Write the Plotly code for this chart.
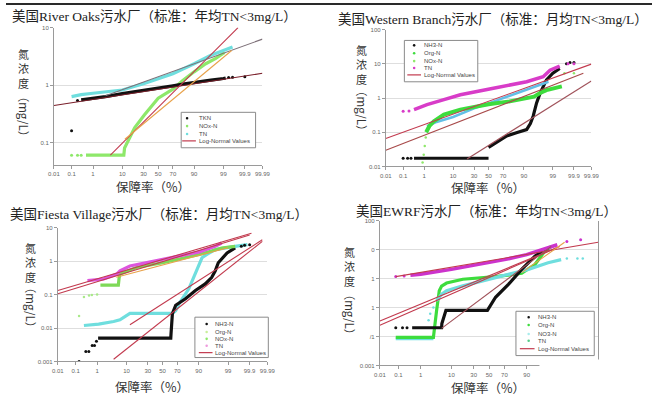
import plotly.graph_objects as go
from statistics import NormalDist

# ---------------- data (percentile %, concentration mg/L) ----------------
X_TICK_P = [0.01, 0.1, 1, 10, 30, 50, 70, 90, 99, 99.9, 99.99]
X_TICK_TEXT = ["0.01", "0.1", "1", "10", "30", "50", "70", "90", "99", "99.9", "99.99"]

TITLES = ["美国River Oaks污水厂（标准：年均TN<3mg/L）",
          "美国Western Branch污水厂（标准：月均TN<3mg/L）",
          "美国Fiesta Village污水厂（标准：月均TN<3mg/L）",
          "美国EWRF污水厂（标准：年均TN<3mg/L）"]
X_TITLE = "保障率（%）"
Y_TITLE_CHARS = ["氮", "浓", "度"]
Y_TITLE_UNIT = "（mg/L）"

P1_Y_TICKS = [0.1, 1, 10]
P1_Y_TEXT = ["0.1", "1", "10"]
P2_Y_TICKS = [0.01, 0.1, 1, 10, 100]
P2_Y_TEXT = ["0.01", "0.1", "1", "10", "100"]
P3_Y_TICKS = [0.001, 0.01, 0.1, 1, 10]
P3_Y_TEXT = ["0.001", "0.01", "0.1", "1", "10"]
P4_Y_TICKS = [0.001, 0.01, 0.1, 1, 10, 100]
P4_Y_TEXT = ["0.001", "/1", "1", "1", "0", "100"]

# Panel 1 - River Oaks
P1_NAMES = ["TKN", "NOx-N", "TN", "Log-Normal Values"]
P1_TKN_P = [0.3, 0.6, 1, 3, 10, 30, 50, 70, 81, 90, 97, 99, 99.2]
P1_TKN_V = [0.55, 0.57, 0.59, 0.63, 0.71, 0.8, 0.88, 0.97, 1.04, 1.12, 1.22, 1.3, 1.33]
P1_TKN_DOT_P = [0.1, 0.2, 99.4, 99.6, 99.9]
P1_TKN_DOT_V = [0.16, 0.54, 1.35, 1.37, 1.4]
P1_NOX_P = [0.5, 11, 11.5, 13, 20, 31, 50, 70, 81, 90, 95.5, 98, 99.1]
P1_NOX_V = [0.06, 0.06, 0.08, 0.094, 0.18, 0.3, 0.59, 0.85, 1.2, 1.7, 2.35, 2.9, 3.7]
P1_NOX_DOT_P = [0.1, 0.2, 0.3]
P1_NOX_DOT_V = [0.06, 0.06, 0.06]
P1_TN_P = [0.1, 0.3, 1, 3, 10, 30, 50, 70, 90, 97, 99, 99.6]
P1_TN_V = [0.63, 0.68, 0.72, 0.76, 0.82, 1.05, 1.27, 1.58, 2.35, 3.3, 4.0, 4.6]
P1_LN_P = [[0.01, 99.99], [4.4, 99.78], [3, 99.99], [11.7, 99.56]]
P1_LN_V = [[0.44, 1.6], [0.06, 10], [0.65, 6.3], [0.114, 4.0]]

# Panel 2 - Western Branch
P2_NAMES = ["NH3-N", "Org-N", "NOx-N", "TN", "Log-Normal Values"]
P2_NH3_FLAT_P = [0.35, 50]
P2_NH3_FLAT_V = [0.0174, 0.0174]
P2_NH3_P = [50, 60, 74.5, 85, 91.6, 93.5, 94.7, 95.9, 96.9, 98.2, 99, 99.5]
P2_NH3_V = [0.036, 0.048, 0.078, 0.098, 0.12, 0.18, 0.3, 0.72, 1.39, 3.4, 5.3, 7.3]
P2_NH3_DOT_P = [0.1, 0.17, 0.25, 99.76, 99.84, 99.9]
P2_NH3_DOT_V = [0.0174, 0.0174, 0.0174, 10, 11, 11]
P2_ORG_P = [1.2, 1.6, 2.4, 5.3, 15.4, 50, 78, 93.3, 95, 96.9, 98.2, 99.6]
P2_ORG_V = [0.1, 0.15, 0.21, 0.33, 0.46, 0.66, 0.8, 1.0, 1.1, 1.4, 1.7, 2.2]
P2_NOX_P = [1.3, 3, 10, 30, 50, 70, 90, 97, 98.5]
P2_NOX_V = [0.15, 0.2, 0.28, 0.5, 0.7, 1.0, 1.7, 2.6, 3.0]
P2_NOX_DOT_P = [0.85, 0.95, 1.05, 1.15, 99.7, 99.9]
P2_NOX_DOT_V = [0.013, 0.022, 0.04, 0.07, 5.3, 5.3]
P2_TN_P = [0.35, 1.3, 5, 15.4, 57, 91.6, 97.6, 98.7, 99.5]
P2_TN_V = [0.46, 0.64, 0.88, 1.25, 1.94, 3.0, 4.2, 6.5, 8.6]
P2_TN_DOT_P = [0.1, 0.2, 99.8, 99.9]
P2_TN_DOT_V = [0.41, 0.42, 10, 10]
P2_LN_P = [[0.01, 99.99], [0.01, 99.97], [21.8, 99.99]]
P2_LN_V = [[0.066, 9.8], [0.030, 5.3], [0.0166, 3.16]]

# Panel 3 - Fiesta Village
P3_NAMES = ["NH3-N", "Org-N", "NOx-N", "TN", "Log-Normal Values"]
P3_NH3_P = [1.1, 61.4, 61.8, 62.7, 63.6, 67.9, 79.2, 87.8, 93.5, 95.9, 96.9, 97.6, 98.6, 98.9, 99.5]
P3_NH3_V = [0.005, 0.005, 0.007, 0.0125, 0.027, 0.048, 0.075, 0.132, 0.207, 0.32, 0.5, 0.89, 1.4, 1.75, 2.46]
P3_NH3_DOT_P = [0.15, 0.32, 0.44, 0.62, 0.78, 0.94, 99.74, 99.82, 99.9]
P3_NH3_DOT_V = [0.001, 0.002, 0.002, 0.003, 0.003, 0.004, 2.75, 2.95, 3.08]
P3_ORG_P = [1.36, 5.8, 6.1, 6.5, 17.6, 50, 90.5, 98.2, 99.5]
P3_ORG_V = [0.19, 0.19, 0.3, 0.41, 0.64, 0.89, 1.57, 2.46, 2.75]
P3_ORG_DOT_P = [0.15, 0.26, 0.45, 0.6, 1.0]
P3_ORG_DOT_V = [0.023, 0.084, 0.094, 0.096, 0.1]
P3_NOX_P = [0.26, 1.16, 4.1, 6.5, 12.3, 63.6, 67.9, 72, 82.4, 87.8, 91.9, 94.2, 96.9, 99.5, 99.87]
P3_NOX_V = [0.0119, 0.013, 0.0157, 0.0176, 0.0273, 0.0273, 0.033, 0.053, 0.148, 0.41, 1.25, 1.57, 2.2, 2.75, 3.08]
P3_TN_P = [0.38, 1.8, 5.2, 6.5, 12.3, 32, 50, 71, 90.5, 96.9, 98.2]
P3_TN_V = [0.26, 0.29, 0.41, 0.51, 0.71, 0.93, 1.12, 1.4, 1.88, 2.75, 3.45]
P3_LN_P = [[0.01, 99.92], [0.01, 99.9], [12.3, 99.98], [4.1, 99.98], [5, 99]]
P3_LN_V = [[0.132, 6.8], [0.106, 6.0], [0.0125, 4.3], [0.00117, 3.86], [0.33, 2.5]]

# Panel 4 - EWRF
P4_NAMES = ["NH3-N", "Org-N", "NO3-N", "TN", "Log-Normal Values"]
P4_NH3_P = [0.44, 5.3, 5.4, 5.9, 7.1, 47.8, 58.8, 74.8, 86.7, 94.1, 96.3, 97.8]
P4_NH3_V = [0.02, 0.02, 0.028, 0.041, 0.08, 0.08, 0.226, 0.64, 2.08, 5.9, 8.7, 11.3]
P4_NH3_DOT_P = [0.074, 0.16, 0.26]
P4_NH3_DOT_V = [0.02, 0.02, 0.02]
P4_ORG_P = [0.074, 2.9, 3.7, 4.5, 5.3, 7.4, 18.6, 58.8, 86.7, 94.1, 97.1, 98.3]
P4_ORG_V = [0.0093, 0.0093, 0.08, 0.38, 0.55, 0.7, 0.95, 1.17, 1.52, 3.07, 8.7, 12.9]
P4_NO3_FLAT_P = [0.074, 2.9]
P4_NO3_FLAT_V = [0.0084, 0.0084]
P4_NO3_P = [3.7, 5.3, 7.4, 18.6, 58.8, 91, 97.8, 99.3]
P4_NO3_V = [0.17, 0.29, 0.38, 0.56, 1.08, 2.08, 3.5, 4.5]
P4_NO3_DOT_P = [1.97, 2.25, 2.9, 99.6, 99.87, 99.93]
P4_NO3_DOT_V = [0.036, 0.061, 0.10, 4.9, 4.9, 4.9]
P4_TN_P = [0.37, 1, 10, 30, 50, 70, 90, 96.3, 99]
P4_TN_V = [1.3, 1.4, 2.08, 2.84, 3.5, 4.5, 6.7, 10, 14.7]
P4_TN_DOT_P = [0.074, 0.19, 99.6, 99.91]
P4_TN_DOT_V = [1.17, 1.23, 19, 21.8]
P4_LN_P = [[0.074, 99.99], [0.01, 99.2], [0.01, 98.9], [5.3, 98.3], [86.7, 99.5]]
P4_LN_V = [[1.17, 18], [0.034, 12.9], [0.0245, 11.3], [0.019, 12.9], [1.6, 18]]

# ---------------- styling ----------------
BLACK = "#111111"
GREEN = "#3ddc3d"
LGREEN = "#8ee86a"
CYAN = "#6fdede"
BLUE = "#62bfe6"
MAGENTA = "#d83cc8"
LN_RED = "#c23a4e"
LN_GRAY = "#7d7078"
LN_ORANGE = "#e8a24a"
AXIS = "#9a9a9a"
GRID = "#dedede"
TICKF = dict(size=6, color="#666666", family="Liberation Sans")
TITLEF = dict(size=13.5, color="#222222", family="Liberation Serif, Noto Sans CJK SC")
LABF = dict(size=11, color="#333333", family="Noto Sans CJK SC")
UNITF = dict(size=11.5, color="#333333", family="Noto Sans CJK SC")
XLABF = dict(size=12.5, color="#333333", family="Noto Sans CJK SC")
LEGF = dict(size=6, color="#444444", family="Liberation Sans")

W, H = 660, 397
_nd = NormalDist()


def probit(ps):
    return [_nd.inv_cdf(p / 100.0) for p in ps]


def fx(x):
    return x / W


def fy(y):
    return 1 - y / H


ZMAX = probit([99.99])[0]
fig = go.Figure()


def series(n, p, v, color, width=3.2):
    fig.add_trace(go.Scatter(x=probit(p), y=v, mode="lines", line=dict(color=color, width=width),
                             xaxis="x" if n == 1 else f"x{n}", yaxis="y" if n == 1 else f"y{n}",
                             hoverinfo="skip", showlegend=False))


def dots(n, p, v, color, size=3):
    fig.add_trace(go.Scatter(x=probit(p), y=v, mode="markers", marker=dict(color=color, size=size),
                             xaxis="x" if n == 1 else f"x{n}", yaxis="y" if n == 1 else f"y{n}",
                             hoverinfo="skip", showlegend=False))


def lnlines(n, ps, vs, colors):
    for p, v, c in zip(ps, vs, colors):
        series(n, p, v, c, width=1.1)


# Panel 1
series(1, P1_NOX_P, P1_NOX_V, LGREEN)
dots(1, P1_NOX_DOT_P, P1_NOX_DOT_V, LGREEN)
series(1, P1_TN_P, P1_TN_V, CYAN)
series(1, P1_TKN_P, P1_TKN_V, BLACK)
dots(1, P1_TKN_DOT_P, P1_TKN_DOT_V, BLACK)
lnlines(1, P1_LN_P, P1_LN_V, ["#7a1f2a", LN_RED, LN_GRAY, LN_ORANGE])

# Panel 2
series(2, P2_NH3_FLAT_P, P2_NH3_FLAT_V, BLACK)
series(2, P2_NH3_P, P2_NH3_V, BLACK)
dots(2, P2_NH3_DOT_P, P2_NH3_DOT_V, BLACK)
series(2, P2_NOX_P, P2_NOX_V, BLUE, 2.5)
dots(2, P2_NOX_DOT_P, P2_NOX_DOT_V, LGREEN, 2.5)
series(2, P2_ORG_P, P2_ORG_V, GREEN, 4)
series(2, P2_TN_P, P2_TN_V, MAGENTA, 3.5)
dots(2, P2_TN_DOT_P, P2_TN_DOT_V, MAGENTA)
lnlines(2, P2_LN_P, P2_LN_V, [LN_RED, "#a84a4a", "#a0525a"])

# Panel 3
series(3, P3_NOX_P, P3_NOX_V, CYAN)
series(3, P3_NH3_P, P3_NH3_V, BLACK)
dots(3, P3_NH3_DOT_P, P3_NH3_DOT_V, BLACK)
series(3, P3_ORG_P, P3_ORG_V, "#7ed957")
dots(3, P3_ORG_DOT_P, P3_ORG_DOT_V, "#a9e98a", 2.5)
series(3, P3_TN_P, P3_TN_V, "#dd55dd")
lnlines(3, P3_LN_P, P3_LN_V, [LN_RED, LN_RED, LN_RED, LN_RED, LN_ORANGE])

# Panel 4
series(4, P4_NO3_FLAT_P, P4_NO3_FLAT_V, CYAN)
series(4, P4_ORG_P, P4_ORG_V, GREEN)
series(4, P4_NO3_P, P4_NO3_V, CYAN)
dots(4, P4_NO3_DOT_P, P4_NO3_DOT_V, CYAN, 2.5)
series(4, P4_NH3_P, P4_NH3_V, BLACK)
dots(4, P4_NH3_DOT_P, P4_NH3_DOT_V, BLACK)
series(4, P4_TN_P, P4_TN_V, "#cc33cc", 3.5)
dots(4, P4_TN_DOT_P, P4_TN_DOT_V, "#cc33cc")
lnlines(4, P4_LN_P, P4_LN_V, [LN_RED, LN_RED, LN_RED, "#a0525a", LN_ORANGE])

# ---------------- axes ----------------
PANELS = [
    dict(xd=(49, 262), yd=(25, 164), top=1, bottom=-1.384, tv=P1_Y_TICKS, tt=P1_Y_TEXT),
    dict(xd=(388, 598), yd=(27, 166), top=2, bottom=-2, tv=P2_Y_TICKS, tt=P2_Y_TEXT),
    dict(xd=(53, 267), yd=(228, 364), top=1, bottom=-3, tv=P3_Y_TICKS, tt=P3_Y_TEXT),
    dict(xd=(382, 605), yd=(221, 368), top=2, bottom=-3, tv=P4_Y_TICKS, tt=P4_Y_TEXT),
]
layout = dict(width=W, height=H, margin=dict(l=0, r=0, t=0, b=0),
              paper_bgcolor="white", plot_bgcolor="white", showlegend=False)
for i, pn in enumerate(PANELS, start=1):
    s = "" if i == 1 else str(i)
    layout["xaxis" + s] = dict(domain=[fx(pn["xd"][0]), fx(pn["xd"][1])], range=[-ZMAX, ZMAX],
                               anchor="y" + s, tickvals=probit(X_TICK_P), ticktext=X_TICK_TEXT,
                               showgrid=False, zeroline=False, showline=True, linecolor=AXIS,
                               ticks="outside", ticklen=3, tickcolor=AXIS, tickfont=TICKF)
    layout["yaxis" + s] = dict(domain=[fy(pn["yd"][1]), fy(pn["yd"][0])], type="log",
                               range=[pn["bottom"], pn["top"]], anchor="x" + s,
                               tickvals=pn["tv"], ticktext=pn["tt"], showgrid=True, gridcolor=GRID,
                               zeroline=False, showline=True, linecolor=AXIS, mirror=(i == 4),
                               ticks="outside", ticklen=3, tickcolor=AXIS, tickfont=TICKF)
fig.update_layout(**layout)

# ---------------- text ----------------
ann = []


def note(text, x, y, font, xa="center", ya="middle", angle=0):
    ann.append(dict(text=text, x=fx(x), y=fy(y), xref="paper", yref="paper", xanchor=xa,
                    yanchor=ya, showarrow=False, font=font, textangle=angle, borderpad=0))


TITLE_POS = [(5, 14), (338, 17), (3, 215), (357, 212)]
for t, (x, y) in zip(TITLES, TITLE_POS):
    note(t, x, y, TITLEF, xa="left")

XT_POS = [(150, 186), (492, 187), (149, 389), (492, 390)]
for x, y in XT_POS:
    note(X_TITLE, x, y, XLABF)

# (x, centre of stacked characters, centre of rotated unit)
YT_POS = [(18, 67, 115), (363, 62, 110), (25, 263, 310), (351, 268, 316)]
for x, yc, yu in YT_POS:
    note("<br>".join(Y_TITLE_CHARS), x, yc, LABF)
    note(Y_TITLE_UNIT, x, yu, UNITF, angle=90)

shapes = []
# dark strip along the top edge of the picture
shapes.append(dict(type="rect", xref="paper", yref="paper", x0=0, x1=1, y0=fy(2), y1=1,
                   line=dict(width=0), fillcolor="#2a2a2a", layer="above"))
# legends
LEGENDS = [
    dict(box=(179, 111, 255, 147), ys=[117, 125, 133, 140], sx=185, tx=196, lx=(180, 194),
         names=P1_NAMES, colors=[BLACK, LGREEN, CYAN]),
    dict(box=(407, 38, 482, 80), ys=[43, 51, 59, 66, 73], sx=417, tx=426, lx=(410, 424),
         names=P2_NAMES, colors=[BLACK, GREEN, LGREEN, MAGENTA]),
    dict(box=(193, 319, 268, 360), ys=[326, 334, 341, 348, 355], sx=205, tx=213, lx=(197, 211),
         names=P3_NAMES, colors=[BLACK, "#c9ef9a", LGREEN, "#ee99dd"]),
    dict(box=(521, 313, 601, 358), ys=[319, 327, 336, 343, 351], sx=534, tx=543, lx=(525, 540),
         names=P4_NAMES, colors=[BLACK, GREEN, "#a8ecec", "#55cc88"]),
]
for lg in LEGENDS:
    x0, y0, x1, y1 = lg["box"]
    shapes.append(dict(type="rect", xref="paper", yref="paper", x0=fx(x0), x1=fx(x1), y0=fy(y1),
                       y1=fy(y0), line=dict(color="#8a8a8a", width=1), fillcolor="white",
                       layer="above"))
    for k, (name, yy) in enumerate(zip(lg["names"], lg["ys"])):
        if k < len(lg["colors"]):
            r = 1.3
            shapes.append(dict(type="circle", xref="paper", yref="paper",
                               x0=fx(lg["sx"] - r), x1=fx(lg["sx"] + r), y0=fy(yy + r), y1=fy(yy - r),
                               line=dict(width=0), fillcolor=lg["colors"][k], layer="above"))
        else:
            shapes.append(dict(type="line", xref="paper", yref="paper", x0=fx(lg["lx"][0]),
                               x1=fx(lg["lx"][1]), y0=fy(yy), y1=fy(yy),
                               line=dict(color=LN_RED, width=1.2), layer="above"))
        note(name, lg["tx"], yy, LEGF, xa="left")

# white patch covering the lower-right corner of the EWRF panel
shapes.append(dict(type="rect", xref="paper", yref="paper", x0=fx(545), x1=fx(658), y0=fy(397),
                   y1=fy(362), line=dict(width=0), fillcolor="white", layer="above"))

fig.update_layout(annotations=ann, shapes=shapes)
fig.write_html("out.html", config={"displayModeBar": False},
               post_script="document.body.style.margin='0px';document.body.style.overflow='hidden';")
